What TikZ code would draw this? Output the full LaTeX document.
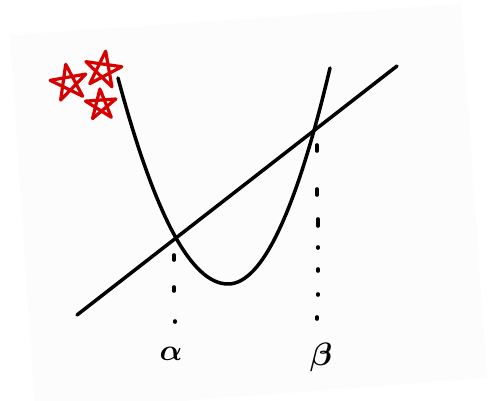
\documentclass[tikz,border=0pt]{standalone}
\usepackage{graphicx}
\begin{document}
\begin{tikzpicture}[x=1pt,y=-1pt, line cap=round, line join=round,
  curve/.style={line width=3.5pt, black},
  starline/.style={line width=3.2pt, draw=starred},
  dotline/.style={line width=3.6pt, black},
  lbl/.style={inner sep=0pt, font=\fontsize{24}{24}\selectfont\boldmath}]
\definecolor{starred}{RGB}{215,0,0}
\definecolor{pagegray}{RGB}{252,252,252}
\useasboundingbox (0,0) rectangle (498,401);
\fill[pagegray] (10,35) -- (461,4) -- (487,378) -- (35,412) -- cycle;
% straight line
\coordinate (L1) at (77,315);
\coordinate (L2) at (397,66);
\draw[curve] (L1) -- (L2);
% parabola
\coordinate (P0) at (118,78);
\coordinate (V) at (228,284);
\coordinate (P2) at (330,68);
\draw[curve] (P0) .. controls (154.7,215.3) and (191.3,284) .. (V)
  .. controls (262,284) and (296,212) .. (P2);
% dotted drops
\draw[dotline] (174,255) -- (174,260);
\draw[dotline] (174,287) -- (174,291);
\draw[dotline] (175,321) -- (175,322);
\draw[dotline] (317,145) -- (317,151);
\draw[dotline] (317,189) -- (317,195);
\draw[dotline] (318,219) -- (318,226);
\draw[dotline] (318,247) -- (318,248);
\draw[dotline] (318,269) -- (318,271);
\draw[dotline] (318,294) -- (318,295);
\draw[dotline] (317,317) -- (317,319);
% labels
\node[lbl] (alpha) at (171,354) {\scalebox{1.2}{$\alpha$}};
\node[lbl] (beta) at (321,357) {\scalebox{1.3}{$\beta$}};
% stars
\foreach \cx/\cy/\r/\rot in {69/83/19/10, 103/70/19/-8, 101/105/16/4}{
  \draw[starline] ({\cx+\r*cos(90+\rot)},{\cy-\r*sin(90+\rot)})
    \foreach \k in {1,...,5}{ -- ({\cx+\r*cos(90+\rot+144*\k)},{\cy-\r*sin(90+\rot+144*\k)}) };
}
\end{tikzpicture}
\end{document}
